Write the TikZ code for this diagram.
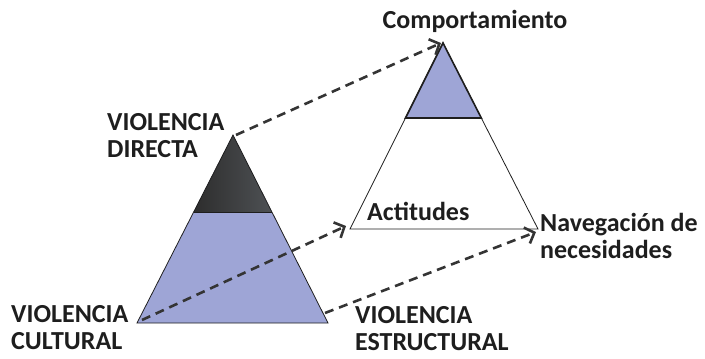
\documentclass[tikz,border=0pt]{standalone}
\usepackage{fontspec}
\setmainfont{Carlito}
\usepackage{xcolor}
\usetikzlibrary{arrows.meta,positioning,calc}
\definecolor{peri}{RGB}{158,165,214}
\definecolor{ink}{RGB}{30,30,30}
\definecolor{dashgray}{RGB}{52,52,52}
\definecolor{capdark}{RGB}{45,45,45}
\definecolor{caplight}{RGB}{78,81,84}

\begin{document}
\begin{tikzpicture}[
  x=1pt, y=-1pt,
  lbl/.style={font=\fontsize{26}{27}\selectfont\bfseries, text=ink, align=left, inner sep=0pt},
  tri/.style={draw=ink, line width=0.8pt, line join=miter},
  link/.style={-{Straight Barb[length=8pt,width=17pt]}, draw=dashgray, line width=2.6pt, dash pattern=on 9pt off 6pt}
]
\useasboundingbox (0,0) rectangle (705,359);

% violence pyramid
\coordinate (lt) at (233,135);
\coordinate (lbl) at (137,323);
\coordinate (lbr) at (328,323);
\fill[peri] (lt) -- (lbl) -- (lbr) -- cycle;
\shade[left color=capdark, right color=caplight] (lt) -- ($(lt)!0.41!(lbl)$) -- ($(lt)!0.41!(lbr)$) -- cycle;
\draw[tri] ($(lt)!0.41!(lbl)$) -- ($(lt)!0.41!(lbr)$);
\draw[tri] (lt) -- (lbl) -- (lbr) -- cycle;

% iceberg
\coordinate (rt) at (443,43);
\coordinate (rbl) at (350,229);
\coordinate (rbr) at (538,229);
\draw[tri, fill=white] (rt) -- (rbl) -- (rbr) -- cycle;
\draw[tri, line width=1.6pt, fill=peri] (rt) -- ($(rt)!0.403!(rbl)$) -- ($(rt)!0.403!(rbr)$) -- cycle;

% labels
\node[lbl, anchor=north] (comp) at (475,10) {Comportamiento};
\node[lbl, anchor=north west] (directa) at (107,113) {VIOLENCIA\\DIRECTA};
\node[lbl, anchor=north west] (actitudes) at (367,202) {Actitudes};
\node[lbl, anchor=north west] (naveg) at (540,213) {Navegación de\\necesidades};
\node[lbl, anchor=north west] (cultural) at (11,305) {VIOLENCIA\\CULTURAL};
\node[lbl, anchor=north west] (estruct) at (355,306) {VIOLENCIA\\ESTRUCTURAL};

% links
\coordinate (s1) at (236,135);
\coordinate (e1) at (441,43);
\coordinate (s2) at (142,320);
\coordinate (e2) at (346,226);
\coordinate (s3) at (325,313);
\coordinate (e3) at (536,232);
\draw[link] (s1) -- (e1);
\draw[link] (s2) -- (e2);
\draw[link] (s3) -- (e3);
\end{tikzpicture}
\end{document}
